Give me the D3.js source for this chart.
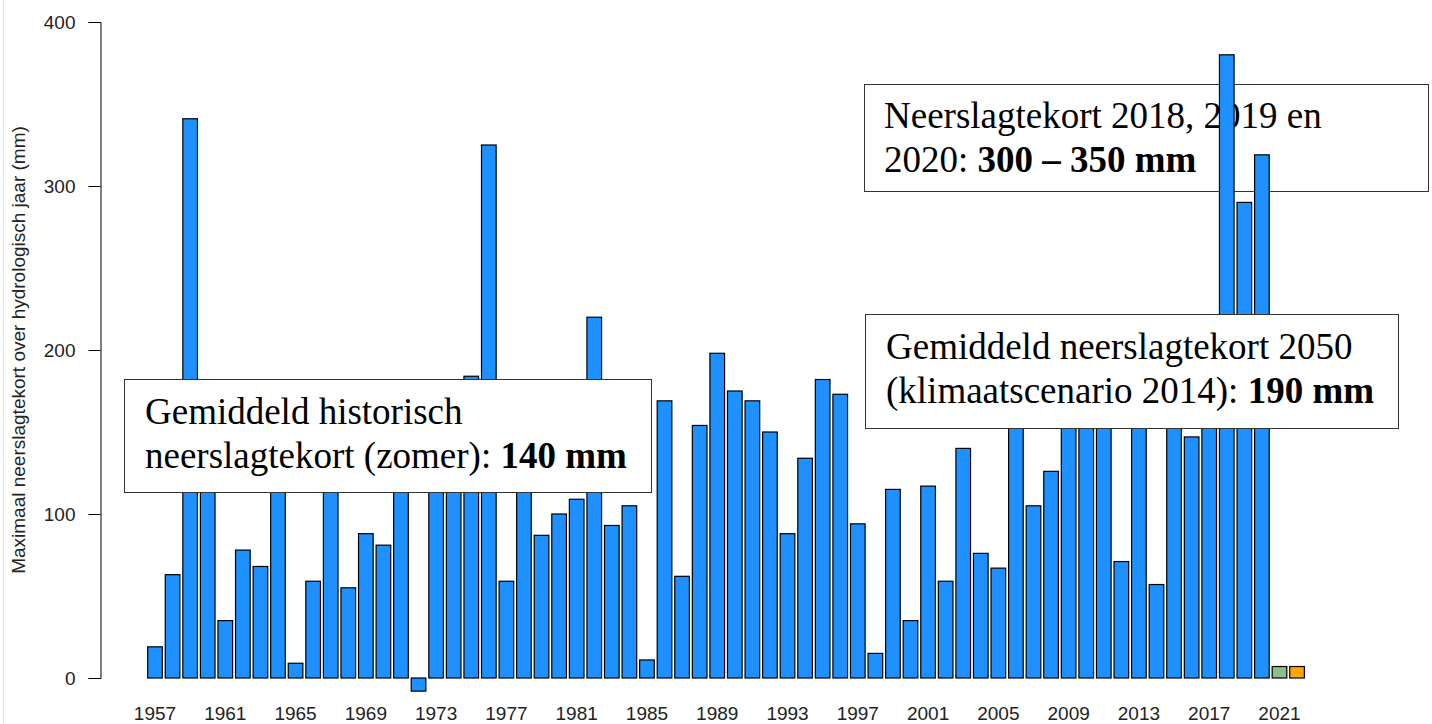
<!DOCTYPE html>
<html>
<head>
<meta charset="utf-8">
<script src="https://cdn.jsdelivr.net/npm/d3@7"></script>
<style>
  html, body { margin: 0; padding: 0; background: #fff; }
  svg { display: block; }
</style>
</head>
<body>
<svg id="chart" width="1432" height="724"></svg>
<script>
// ---- Data ----
const years = d3.range(1957, 2023); // 1957 .. 2022
const deficit = [
  19, 63, 341, 125, 35, 78, 68, 160, 9, 59,      // 1957-1966
  140, 55, 88, 81, 165, -8, 130, 150, 184, 325,  // 1967-1976
  59, 120, 87, 100, 109, 220, 93, 105, 11, 169,  // 1977-1986
  62, 154, 198, 175, 169, 150, 88, 134, 182, 173,// 1987-1996
  94, 15, 115, 35, 117, 59, 140, 76, 67, 200,    // 1997-2006
  105, 126, 175, 165, 190, 71, 170, 57, 185, 147,// 2007-2016
  180, 380, 290, 319, 7, 7                       // 2017-2022
];
const yTicks = [0, 100, 200, 300, 400];
const xTickYears = [1957, 1961, 1965, 1969, 1973, 1977, 1981, 1985, 1989, 1993, 1997, 2001, 2005, 2009, 2013, 2017, 2021];
const yTitle = "Maximaal neerslagtekort over hydrologisch jaar (mm)";
const notes = [
  { lines: [[["Neerslagtekort 2018, 2019 en", false]], [["2020: ", false], ["300 \u2013 350 mm", true]]] },
  { lines: [[["Gemiddeld historisch", false]], [["neerslagtekort (zomer): ", false], ["140 mm", true]]] },
  { lines: [[["Gemiddeld neerslagtekort 2050", false]], [["(klimaatscenario 2014): ", false], ["190 mm", true]]] }
];

// ---- Layout ----
const svg = d3.select("#chart");
const y = d3.scaleLinear().domain([0, 400]).range([678, 22]);
const step = 17.57;
const x = d3.scaleBand()
  .domain(years)
  .range([155 - step / 2, 155 - step / 2 + step * years.length])
  .paddingInner(1 / 6)
  .paddingOuter(1 / 12);

const fillFor = yr => yr === 2021 ? "#8FBC8F" : (yr === 2022 ? "#FFA500" : "#1E90FF");

// faint left frame line
svg.append("line").attr("x1", 3.5).attr("x2", 3.5).attr("y1", 0).attr("y2", 724)
  .attr("stroke", "#e2e2e2").attr("stroke-width", 1);

// annotation box helper
const serif = "'Liberation Serif', 'Times New Roman', Times, serif";
function drawNote(g, note, box, textX, baseline1, lineGap) {
  g.append("rect")
    .attr("x", box[0] + 0.5).attr("y", box[1] + 0.5)
    .attr("width", box[2] - box[0]).attr("height", box[3] - box[1])
    .attr("fill", "#fff").attr("stroke", "#333").attr("stroke-width", 1);
  note.lines.forEach((ln, i) => {
    const t = g.append("text")
      .attr("x", textX).attr("y", baseline1 + i * lineGap)
      .attr("font-family", serif).attr("font-size", 37).attr("fill", "#000");
    ln.forEach(([s, bold]) => {
      t.append("tspan").attr("font-weight", bold ? "bold" : "normal").text(s);
    });
  });
}

// upper-right box lies beneath the bars
drawNote(svg.append("g"), notes[0], [864, 84, 1428, 191], 884, 128, 44);

// bars
svg.append("g").selectAll("rect")
  .data(years.map((yr, i) => ({ yr, v: deficit[i] })))
  .join("rect")
  .attr("x", d => x(d.yr))
  .attr("width", x.bandwidth())
  .attr("y", d => y(Math.max(0, d.v)))
  .attr("height", d => Math.abs(y(d.v) - y(0)))
  .attr("fill", d => fillFor(d.yr))
  .attr("stroke", "#000").attr("stroke-width", 1.2);

// boxes over the bars
drawNote(svg.append("g"), notes[1], [124, 379, 651, 492], 145, 424, 44);
drawNote(svg.append("g"), notes[2], [865, 314, 1398, 428], 886, 359, 44);

// y axis
const sans = "'Liberation Sans', Arial, Helvetica, sans-serif";
const yAxis = svg.append("g")
  .attr("transform", "translate(100.5,0)")
  .call(d3.axisLeft(y).tickValues(yTicks).tickSize(12).tickSizeOuter(12).tickPadding(13).tickFormat(d3.format("d")));
yAxis.selectAll("path, line").attr("stroke", "#000");
yAxis.selectAll("text").attr("font-family", sans).attr("font-size", 19).attr("fill", "#222");

// x labels
const xAxis = svg.append("g")
  .attr("transform", "translate(0,678)")
  .call(d3.axisBottom(x).tickValues(xTickYears).tickSize(0).tickPadding(29));
xAxis.select(".domain").remove();
xAxis.selectAll("text").attr("font-family", sans).attr("font-size", 19).attr("fill", "#222");

// y title
svg.append("text")
  .attr("transform", "translate(25,350) rotate(-90)")
  .attr("text-anchor", "middle")
  .attr("font-family", sans).attr("font-size", 19).attr("fill", "#222")
  .text(yTitle);
</script>
</body>
</html>
